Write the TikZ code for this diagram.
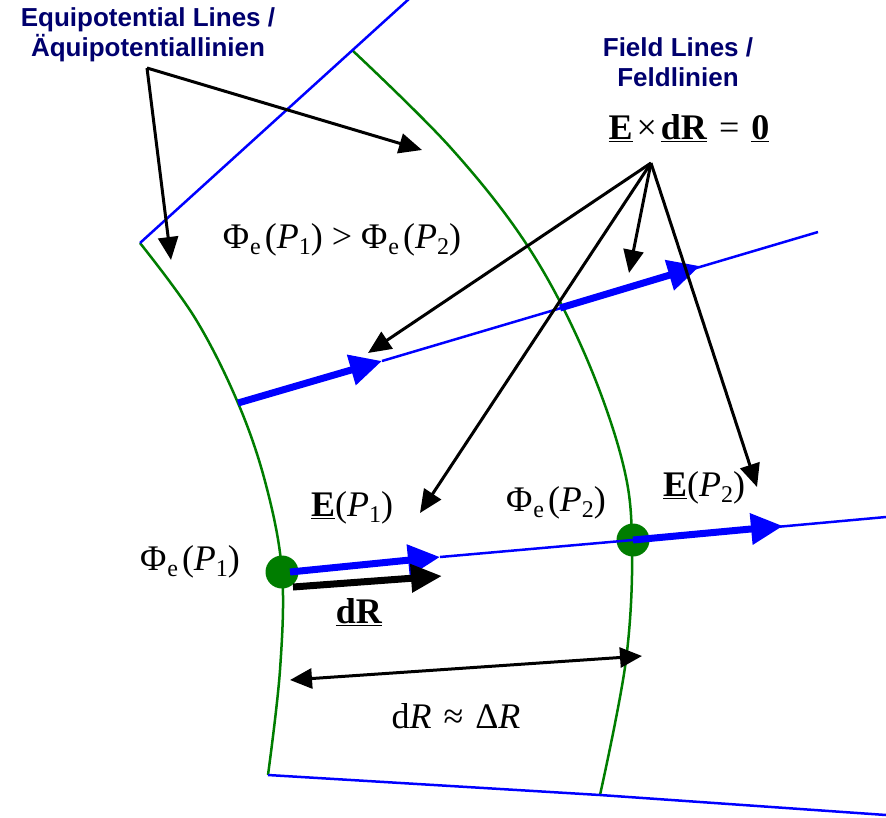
\documentclass[tikz,border=0pt]{standalone}
\usepackage{fontspec}
\setmainfont{Liberation Serif}
\newfontfamily\headfont{Liberation Sans}
\usetikzlibrary{arrows.meta}
\definecolor{eqgreen}{RGB}{0,125,0}
\definecolor{labelnavy}{RGB}{0,0,110}
\newcommand{\lo}[1]{\raisebox{-0.35ex}{\fontsize{24}{24}\selectfont #1}}
\newcommand{\potP}[1]{Φ\kern1pt\lo{e}\kern4pt(\textit{P}\kern0pt\lo{#1})}
\newcommand{\vecE}{\underline{\textbf{E}}}
\newcommand{\vecdR}{\underline{\textbf{dR}}}

\begin{document}
\begin{tikzpicture}[x=1pt, y=-1pt,
        equi/.style   = {draw=eqgreen, line width=2.5pt},
        fld/.style    = {draw=blue, line width=2.5pt},
        fldarr/.style = {draw=blue, line width=7pt,
                         -{Triangle[length=32pt, width=30pt]}},
        drarr/.style  = {draw=black, line width=7pt,
                         -{Triangle[length=31pt, width=27pt]}},
        ptr/.style    = {draw=black, line width=3pt,
                         -{Triangle[length=23pt, width=20pt]}},
        dim/.style    = {draw=black, line width=3pt,
                         {Triangle[length=22pt, width=20pt]}-{Triangle[length=22pt, width=20pt]}},
        dot/.style    = {circle, fill=eqgreen, minimum size=33pt, inner sep=0pt},
        head/.style   = {font=\headfont\bfseries\fontsize{26}{30}\selectfont,
                         text=labelnavy, align=center},
        mth/.style    = {font=\fontsize{36}{38}\selectfont, inner sep=0pt}
    ]
        \useasboundingbox (0,0) rectangle (886,817);

        % corners of the cell
        \coordinate (eqAtop) at (140,243);
        \coordinate (eqAbot) at (268,775);
        \coordinate (eqBtop) at (352,50);
        \coordinate (eqBbot) at (600,795);

        % equipotential lines
        \draw[equi] plot[smooth, tension=0.6] coordinates
            {(140,243) (195,318) (238,403) (266,485) (282,572) (280,670) (268,775)};
        \draw[equi] plot[smooth, tension=0.6] coordinates
            {(352,50) (450,147) (527,245) (583,350) (622,460) (632,543) (626,660) (600,795)};
        \draw[fld] (eqAtop) -- (410,-2);
        \draw[fld] (eqAbot) -- (eqBbot) -- (886,815);

        % field lines
        \coordinate (fA0) at (238,403);
        \coordinate (fA1) at (382,361);
        \coordinate (fA2) at (560,308);
        \coordinate (fA3) at (700,266);
        \coordinate (fAend) at (818,232);
        \draw[fld] (fA1) -- (fAend);
        \draw[fldarr] (fA0) -- (fA1);
        \draw[fldarr] (fA2) -- (fA3);

        \node[dot] (P1) at (282,572) {};
        \node[dot] (P2) at (633,540) {};
        \coordinate (fB1) at (440,557);
        \coordinate (fB2) at (783,526);
        \coordinate (fBend) at (886,517);
        \draw[fld] (fB1) -- (P2.center) -- (fBend);
        \draw[fldarr] ([xshift=8pt]P1.center) -- (fB1);
        \draw[fldarr] (P2.center) -- (fB2);

        % line element
        \coordinate (dR0) at (293,587);
        \coordinate (dR1) at (442,576);
        \draw[drarr] (dR0) -- (dR1);

        % distance
        \coordinate (dL) at (290,680);
        \coordinate (dRt) at (642,656);
        \draw[dim] (dL) -- (dRt);

        % labels
        \node[head] (eqlbl) at (148,35) {Equipotential Lines /\\Äquipotentiallinien};
        \node[head] (fllbl) at (678,62) {Field Lines /\\Feldlinien};
        \node[mth] (cross) at (689,128) {\vecE\kern4pt×\kern4pt\vecdR\kern12pt=\kern12pt\underline{\textbf{0}}};
        \node[mth] (ineq) at (342,240) {\potP{1}\kern9pt>\kern9pt\potP{2}};
        \node[mth] (phi1) at (190,562) {\potP{1}};
        \node[mth] (phi2) at (556,503) {\potP{2}};
        \node[mth] (E1) at (352,508) {\vecE(\textit{P}\lo{1})};
        \node[mth] (E2) at (704,488) {\vecE(\textit{P}\lo{2})};
        \node[mth] (dRl) at (359,612) {\vecdR};
        \node[mth] (dist) at (456,716) {d\textit{R}\kern12pt≈\kern12ptΔ\textit{R}};

        % pointers
        \coordinate (eqsrc) at (147,68);
        \coordinate (flsrc) at (651,163);
        \draw[ptr] (eqsrc) -- (422,150);
        \draw[ptr] (eqsrc) -- (171,260);
        \draw[ptr] (flsrc) -- (368,353);
        \draw[ptr] (flsrc) -- (420,513);
        \draw[ptr] (flsrc) -- (629,273);
        \draw[ptr] (flsrc) -- (757,487);
    \end{tikzpicture}
\end{document}
